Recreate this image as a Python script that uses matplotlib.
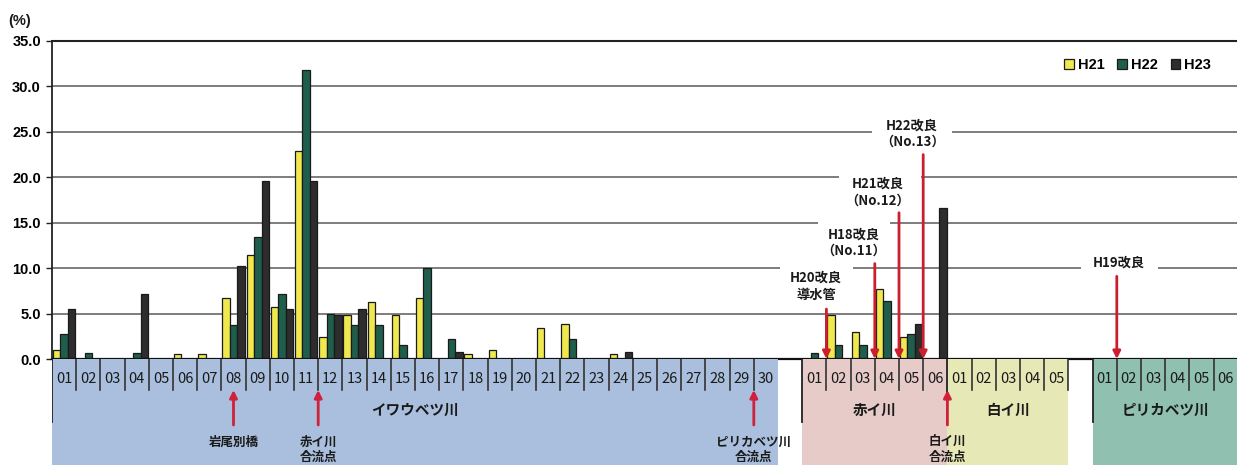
import matplotlib
matplotlib.use('Agg')
import matplotlib.pyplot as plt
from matplotlib.patches import Rectangle

plt.rcParams['font.family'] = ['Noto Sans CJK JP', 'DejaVu Sans']

# ---------------- data ----------------
series_names = ['H21', 'H22', 'H23']
group_names = ['イワウベツ川', '赤イ川', '白イ川', 'ピリカベツ川']

iwau_labels = ['%02d' % i for i in range(1, 31)]
akai_labels = ['01', '02', '03', '04', '05', '06']
shiroi_labels = ['01', '02', '03', '04', '05']
pirika_labels = ['01', '02', '03', '04', '05', '06']

h21_iwau = [1.0, 0, 0, 0, 0, 0.6, 0.6, 6.7, 11.4, 5.7, 22.9, 2.4, 4.8, 6.3, 4.8,
            6.7, 0, 0.6, 1.0, 0, 3.4, 3.9, 0, 0.6, 0, 0, 0, 0, 0, 0]
h22_iwau = [2.8, 0.7, 0, 0.7, 0, 0, 0, 3.7, 13.4, 7.1, 31.8, 5.0, 3.7, 3.7, 1.5,
            10.0, 2.2, 0, 0, 0, 0, 2.2, 0, 0, 0, 0, 0, 0, 0, 0]
h23_iwau = [5.5, 0, 0, 7.1, 0, 0, 0, 10.2, 19.6, 5.5, 19.6, 4.8, 5.5, 0, 0,
            0, 0.8, 0, 0, 0, 0, 0, 0, 0.8, 0, 0, 0, 0, 0, 0]

h21_akai = [0, 4.8, 3.0, 7.7, 2.4, 0]
h22_akai = [0.7, 1.5, 1.5, 6.4, 2.8, 0]
h23_akai = [0, 0, 0, 0, 3.9, 16.6]

h21_shiroi = [0, 0, 0, 0, 0]
h22_shiroi = [0, 0, 0, 0, 0]
h23_shiroi = [0, 0, 0, 0, 0]

h21_pirika = [0, 0, 0, 0, 0, 0]
h22_pirika = [0, 0, 0, 0, 0, 0]
h23_pirika = [0, 0, 0, 0, 0, 0]

# annotations: (text, text x, text y, arrow x, arrow top)
improve_notes = [
    ('H20改良\n導水管', 31.57, 8.0, 32, 5.5),
    ('H18改良\n（No.11）', 33.14, 12.8, 34, 10.5),
    ('H21改良\n（No.12）', 34.13, 18.4, 35, 16.1),
    ('H22改良\n（No.13）', 35.54, 24.8, 36, 22.5),
    ('H19改良', 44.1, 10.6, 44, 9.1),
]
# white background boxes behind those notes (x0, x1, y0, y1)
note_boxes = [
    (30.08, 33.1, 6.05, 10.7),
    (31.65, 34.63, 10.7, 15.5),
    (32.5, 35.9, 16.4, 21.0),
    (33.9, 37.2, 22.5, 26.9),
    (42.5, 45.7, 9.0, 12.0),
]
bottom_notes = [
    (['岩尾別橋'], 7.5),
    (['赤イ川', '合流点'], 11.0),
    (['ピリカベツ川', '合流点'], 29.0),
    (['白イ川', '合流点'], 37.0),
]

# ---------------- layout ----------------
group_labels = [iwau_labels, akai_labels, shiroi_labels, pirika_labels]
group_values = [
    [h21_iwau, h22_iwau, h23_iwau],
    [h21_akai, h22_akai, h23_akai],
    [h21_shiroi, h22_shiroi, h23_shiroi],
    [h21_pirika, h22_pirika, h23_pirika],
]
group_gap_after = [1, 0, 1, 0]
group_colors = ['#a9bfdd', '#e6cbc8', '#e6e9b6', '#8fc0b0']
series_colors = ['#efe84e', '#1f5e4c', '#2d2d2d']

starts = []
pos = 0
for labels, gap in zip(group_labels, group_gap_after):
    starts.append(pos)
    pos += len(labels) + gap
n_slots = pos

W, H = 1237, 465
fig = plt.figure(figsize=(W / 100, H / 100), dpi=100)
left = 52 / W
width = (n_slots * 24.2) / W
ax = fig.add_axes([left, 106 / H, width, 318 / H])
tax = fig.add_axes([left, 0, width, 106 / H])

ax.set_xlim(0, n_slots)
ax.set_ylim(0, 35)

# gridlines
for yv in [5, 10, 15, 20, 25, 30]:
    ax.axhline(yv, color='#5a5a5a', lw=1.1, zorder=1)
ax.axhline(35, color='#222222', lw=1.5, zorder=1, clip_on=False)

for (x0, x1, y0, y1) in note_boxes:
    ax.add_patch(Rectangle((x0, y0), x1 - x0, y1 - y0, facecolor='white',
                           edgecolor='none', zorder=1.5))

bw = 0.31
handles = []
for g, (labels, vals) in enumerate(zip(group_labels, group_values)):
    for k, sv in enumerate(vals):
        xs = [starts[g] + i + 0.04 + k * bw for i in range(len(sv)) if sv[i] > 0]
        hs = [v for v in sv if v > 0]
        b = ax.bar(xs, hs, width=bw, align='edge', color=series_colors[k],
                   edgecolor='#1a1a1a', linewidth=0.9, zorder=3)
        if g == 0:
            handles.append(b)

for text, tx, ty, axx, atop in improve_notes:
    ax.text(tx, ty, text, ha='center', va='center', fontsize=9.5,
            fontweight='bold', color='#1a1a1a', linespacing=1.25, zorder=5)
    ax.annotate('', xy=(axx, 0), xytext=(axx, atop),
                arrowprops=dict(arrowstyle='-|>', color='#cc1f2e', lw=2,
                                mutation_scale=11, shrinkA=0, shrinkB=0),
                zorder=4)

ax.set_yticks([0, 5, 10, 15, 20, 25, 30, 35])
ax.set_yticklabels(['%.1f' % v for v in [0, 5, 10, 15, 20, 25, 30, 35]],
                   fontsize=10.5, fontweight='bold', family='Liberation Sans')
ax.tick_params(axis='y', length=4, width=1, color='#222', pad=4)
ax.set_xticks([])
for s in ['top', 'right']:
    ax.spines[s].set_visible(False)
ax.spines['left'].set_color('#222')
ax.spines['left'].set_linewidth(1.3)
ax.spines['bottom'].set_color('#111')
ax.spines['bottom'].set_linewidth(1.6)
ax.spines['bottom'].set_zorder(6)

leg = ax.legend(handles, series_names, ncol=3, loc='center right',
                bbox_to_anchor=(0.982, 0.925), frameon=False,
                handlelength=0.65, handleheight=0.65, handletextpad=0.25,
                columnspacing=0.9, borderaxespad=0,
                prop={'family': 'Liberation Sans', 'weight': 'bold', 'size': 10.5})

fig.text(20 / W, 1 - 21 / H, '(%)', ha='center', va='center', fontsize=10.5,
         fontweight='bold', family='Liberation Sans', color='#1a1a1a')

# ---------------- table below ----------------
tax.set_xlim(0, n_slots)
tax.set_ylim(106, 0)
tax.axis('off')
for g, labels in enumerate(group_labels):
    s = starts[g]
    n = len(labels)
    tax.add_patch(Rectangle((s, 0), n, 106, facecolor=group_colors[g],
                            edgecolor='none', zorder=0))
    tax.plot([s, s], [0, 63], color='#222', lw=1.3, zorder=2)
    for j in range(1, n):
        tax.plot([s + j, s + j], [0, 31], color='#333', lw=1.2, zorder=2)
    for i, lab in enumerate(labels):
        tax.text(s + i + 0.5, 20, lab, ha='center', va='center', fontsize=10.5,
                 color='#1a1a1a', zorder=3)
    tax.text(s + n / 2, 51, group_names[g], ha='center', va='center',
             fontsize=10.5, fontweight='bold', color='#1a1a1a', zorder=3)
# right border of 白イ川
tax.plot([starts[2] + len(shiroi_labels)] * 2, [0, 31], color='#333', lw=1.2, zorder=2)

for lines, bx in bottom_notes:
    tax.annotate('', xy=(bx, 31), xytext=(bx, 66),
                 arrowprops=dict(arrowstyle='-|>', color='#d0203a', lw=2,
                                 mutation_scale=11, shrinkA=0, shrinkB=0),
                 zorder=4)
    for li, line in enumerate(lines):
        tax.text(bx, 83 + li * 15.5, line, ha='center', va='center', fontsize=9,
                 fontweight='bold', color='#1a1a1a', zorder=5)

fig.savefig('out.png', dpi=100)
